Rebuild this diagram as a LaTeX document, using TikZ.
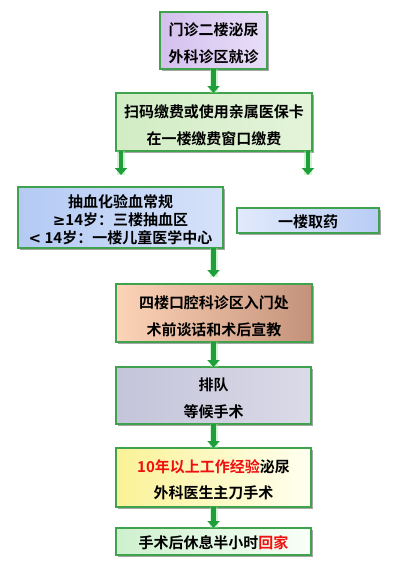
\documentclass[tikz,border=0pt]{standalone}
\usepackage{fontspec}
\setmainfont{Noto Sans CJK SC}[BoldFont={Noto Sans CJK SC Bold}]
\newfontfamily\symfont{DejaVu Sans}
\usetikzlibrary{arrows.meta,shadows}
\definecolor{bordergreen}{HTML}{3FA34D}
\definecolor{arrowgreen}{HTML}{1F9E3C}
\definecolor{glowgreen}{HTML}{9BE89B}
\definecolor{txtred}{HTML}{F01010}
\tikzset{
  box/.style={draw=bordergreen, line width=1.2pt, inner sep=0pt, outer sep=0pt,
    drop shadow={shadow xshift=2pt, shadow yshift=-2pt, opacity=0.35, fill=black}},
  label2/.style={align=center, inner sep=0pt, font=\fontsize{15}{27}\selectfont\bfseries},
  flow/.style={line width=4.5pt, draw=arrowgreen, -{Triangle[width=12pt,length=7pt]},
    preaction={draw=glowgreen, line width=8pt, opacity=0.45, -}},
}
\begin{document}
\begin{tikzpicture}[x=1pt,y=-1pt]
\useasboundingbox[fill=white] (0,0) rectangle (400,574);

% boxes
\node[box, minimum width=107pt, minimum height=57pt,
  left color={rgb,255:red,212;green,192;blue,238}, right color={rgb,255:red,232;green,222;blue,248}]
  (b1) at (213.5,40.5) {};
\node[box, minimum width=196pt, minimum height=58pt,
  left color={rgb,255:red,210;green,236;blue,196}, right color={rgb,255:red,228;green,244;blue,218}]
  (b2) at (214,122) {};
\node[box, minimum width=205pt, minimum height=61pt,
  left color={rgb,255:red,180;green,202;blue,244}, right color={rgb,255:red,214;green,226;blue,250}]
  (b3) at (120.5,217.5) {};
\node[box, minimum width=142pt, minimum height=25pt,
  left color={rgb,255:red,226;green,234;blue,252}, right color={rgb,255:red,184;green,204;blue,244}]
  (b4) at (308,220.5) {};
\node[box, minimum width=196pt, minimum height=58pt,
  left color={rgb,255:red,253;green,212;blue,184}, right color={rgb,255:red,196;green,146;blue,122}]
  (b5) at (214,313) {};
\node[box, minimum width=195pt, minimum height=57pt,
  left color={rgb,255:red,196;green,196;blue,218}, right color={rgb,255:red,218;green,218;blue,232}]
  (b6) at (213.5,395.5) {};
\node[box, minimum width=195pt, minimum height=59pt,
  left color={rgb,255:red,250;green,242;blue,150}, right color={rgb,255:red,255;green,255;blue,240}]
  (b7) at (213.5,477.5) {};
\node[box, minimum width=195pt, minimum height=27pt,
  left color={rgb,255:red,206;green,240;blue,206}, right color={rgb,255:red,248;green,255;blue,248}]
  (b8) at (213.5,541.5) {};

% texts
\node[label2, yshift=-3pt] (t1) at (b1.center) {门诊二楼泌尿\\外科诊区就诊};
\node[label2, yshift=-3pt] (t2) at (b2.center) {扫码缴费或使用亲属医保卡\\在一楼缴费窗口缴费};
\node[label2, yshift=-2pt, font=\fontsize{15}{18}\selectfont\bfseries] (t3) at (b3.center)
  {抽血化验血常规\\{\symfont\bfseries ≥}14岁：三楼抽血区\\{\symfont\bfseries <} 14岁：一楼儿童医学中心};
\node[label2, yshift=-1pt] (t4) at (b4.center) {一楼取药};
\node[label2, yshift=-3pt] (t5) at (b5.center) {四楼口腔科诊区入门处\\术前谈话和术后宣教};
\node[label2, yshift=-3pt] (t6) at (b6.center) {排队\\等候手术};
\node[label2, yshift=-2.5pt, font=\fontsize{15}{26}\selectfont\bfseries] (t7) at (b7.center)
  {\textcolor{txtred}{10年以上工作经验}泌尿\\外科医生主刀手术};
\node[label2, yshift=-1.5pt] (t8) at (b8.center) {手术后休息半小时\textcolor{txtred}{回家}};

% arrow ends
\coordinate (e2) at (121,175);
\coordinate (e3) at (308,175);
\coordinate (e4) at (213.5,277);

% connectors
\draw[flow] (b1.south) -- (b1.south |- b2.north);
\draw[flow] (b2.south -| e2) -- (e2);
\draw[flow] (b2.south -| e3) -- (e3);
\draw[flow] (b3.south -| e4) -- (e4);
\draw[flow] (b5.south -| b6.north) -- (b6.north);
\draw[flow] (b6.south) -- (b7.north);
\draw[flow] (b7.south) -- (b8.north);
\end{tikzpicture}
\end{document}
